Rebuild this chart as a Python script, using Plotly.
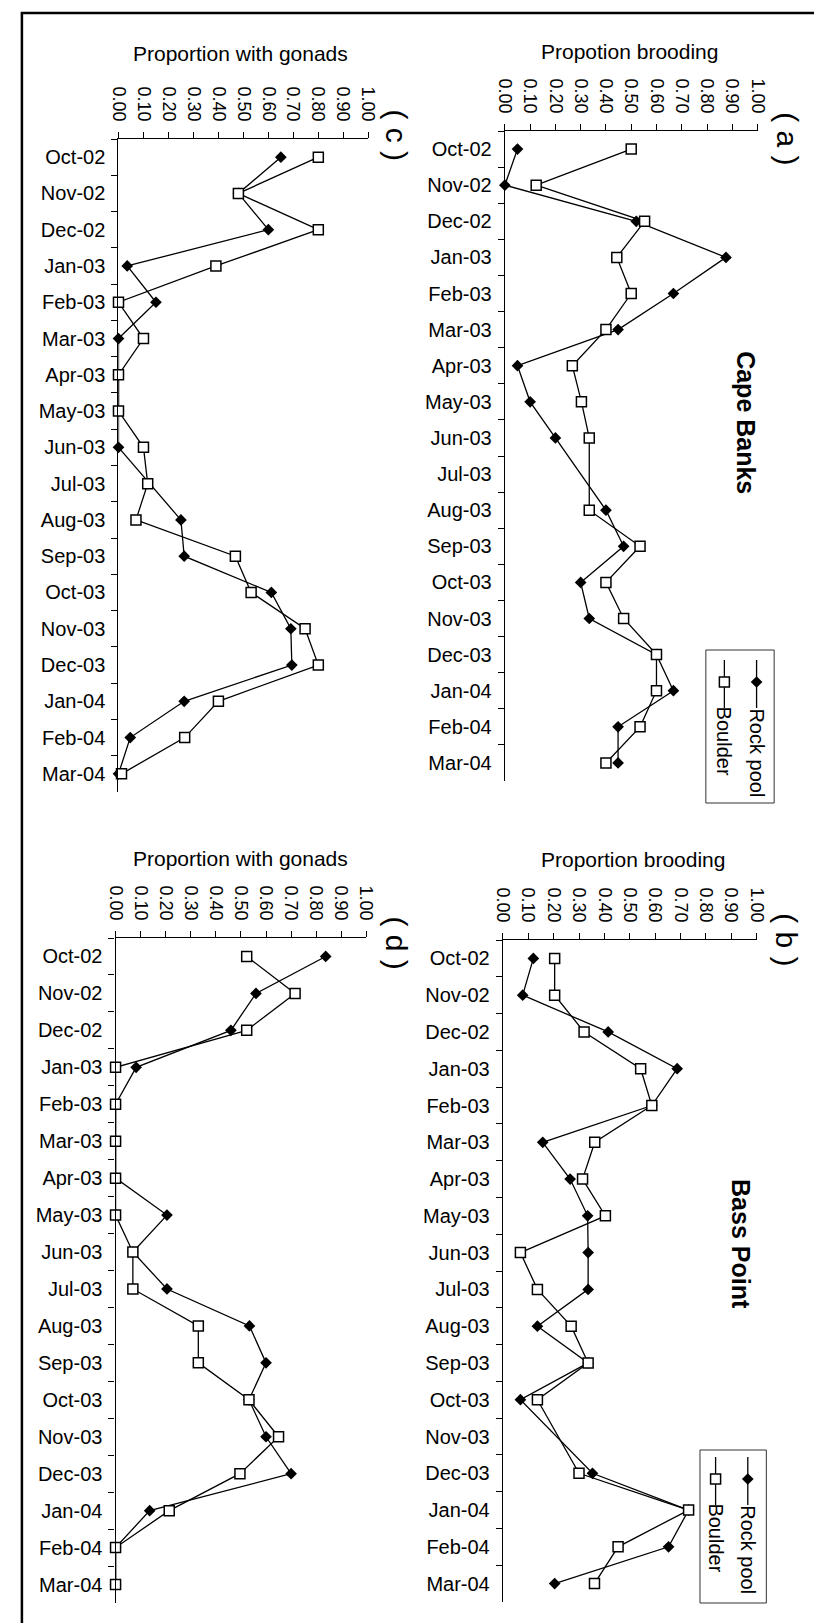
import plotly.graph_objects as go

W, H = 822, 1623

months = ["Oct-02", "Nov-02", "Dec-02", "Jan-03", "Feb-03", "Mar-03", "Apr-03", "May-03",
          "Jun-03", "Jul-03", "Aug-03", "Sep-03", "Oct-03", "Nov-03", "Dec-03", "Jan-04",
          "Feb-04", "Mar-04"]

value_ticks = [0.0, 0.1, 0.2, 0.3, 0.4, 0.5, 0.6, 0.7, 0.8, 0.9, 1.0]
value_labels = ["0.00", "0.10", "0.20", "0.30", "0.40", "0.50", "0.60", "0.70", "0.80", "0.90", "1.00"]

# (a) Cape Banks - proportion brooding
cb_brood_rock = [0.05, 0.00, 0.52, 0.875, 0.667, 0.448, 0.05, 0.10, 0.20, None, 0.40, 0.47,
                 0.30, 0.334, 0.60, 0.667, 0.448, 0.448]
cb_brood_boulder = [0.50, 0.124, 0.553, 0.443, 0.50, 0.40, 0.267, 0.303, 0.334, None, 0.334, 0.535,
                    0.40, 0.47, 0.60, 0.60, 0.535, 0.40]
# (b) Bass Point - proportion brooding
bp_brood_rock = [0.12, 0.078, 0.415, 0.687, 0.587, 0.157, 0.265, 0.334, 0.336, 0.336, 0.136, 0.336,
                 0.069, None, 0.353, 0.732, 0.653, 0.204]
bp_brood_boulder = [0.204, 0.204, 0.32, 0.543, 0.587, 0.362, 0.314, 0.404, 0.069, 0.136, 0.269, 0.336,
                    0.136, None, 0.30, 0.732, 0.454, 0.361]
# (c) Cape Banks - proportion with gonads
cb_gonad_rock = [0.65, 0.48, 0.60, 0.035, 0.15, 0.0, 0.0, 0.0, 0.0, None, 0.25, 0.263,
                 0.612, 0.69, 0.694, 0.263, 0.047, 0.0]
cb_gonad_boulder = [0.80, 0.48, 0.80, 0.39, 0.0, 0.10, 0.0, 0.0, 0.10, 0.117, 0.07, 0.468,
                    0.531, 0.747, 0.80, 0.40, 0.265, 0.012]
# (d) Bass Point - proportion with gonads
bp_gonad_rock = [0.838, 0.56, 0.46, 0.082, 0.0, 0.0, 0.0, 0.205, 0.069, 0.205, 0.534, 0.60,
                 0.532, 0.60, 0.70, 0.136, 0.0, 0.0]
bp_gonad_boulder = [0.523, 0.716, 0.523, 0.0, 0.0, 0.0, 0.0, 0.0, 0.069, 0.069, 0.33, 0.33,
                    0.532, 0.65, 0.496, 0.214, 0.0, 0.0]

series_names = ["Rock pool", "Boulder"]

FONT = "Liberation Sans, Arial, sans-serif"

# panel layout in pixels: (x0, x1, y0, y1)
panels = [
    dict(rock=cb_brood_rock, boulder=cb_brood_boulder, box=(499, 758, 123, 773),
         title="Propotion brooding", tpos=(627, 44), label="( a )", lpos=(788, 131)),
    dict(rock=bp_brood_rock, boulder=bp_brood_boulder, box=(497, 757, 932, 1594),
         title="Proportion brooding", tpos=(630, 851), label="( b )", lpos=(788, 932)),
    dict(rock=cb_gonad_rock, boulder=cb_gonad_boulder, box=(103, 359, 131, 784),
         title="Proportion with gonads", tpos=(228, 45), label="( c )", lpos=(388, 127)),
    dict(rock=bp_gonad_rock, boulder=bp_gonad_boulder, box=(100, 357, 930, 1595),
         title="Proportion with gonads", tpos=(228, 850), label="( d )", lpos=(388, 935)),
]

fig = go.Figure()
annotations = []
layout_axes = {}

def px(x):
    return x / W

def py(y):
    return 1 - y / H

for i, p in enumerate(panels, start=1):
    xs = "x" if i == 1 else f"x{i}"
    ys = "y" if i == 1 else f"y{i}"
    xk = "xaxis" if i == 1 else f"xaxis{i}"
    yk = "yaxis" if i == 1 else f"yaxis{i}"
    x0, x1, y0, y1 = p["box"]
    fig.add_trace(go.Scatter(
        x=p["rock"], y=months, xaxis=xs, yaxis=ys, mode="lines+markers",
        connectgaps=True, cliponaxis=False, showlegend=False, name=series_names[0],
        line=dict(color="black", width=1.3),
        marker=dict(symbol="diamond", size=9, color="black", line=dict(width=0))))
    fig.add_trace(go.Scatter(
        x=p["boulder"], y=months, xaxis=xs, yaxis=ys, mode="lines+markers",
        connectgaps=True, cliponaxis=False, showlegend=False, name=series_names[1],
        line=dict(color="black", width=1.3),
        marker=dict(symbol="square", size=10, color="white", line=dict(color="black", width=1.5))))
    layout_axes[xk] = dict(
        domain=[px(x0), px(x1)], range=[0, 1], side="top", anchor=ys,
        tickmode="array", tickvals=value_ticks, ticktext=value_labels, tickangle=90,
        ticks="outside", ticklen=6, tickwidth=1, tickcolor="black",
        showline=True, linecolor="black", linewidth=1.3, showgrid=False, zeroline=False,
        tickfont=dict(family=FONT, size=18, color="black"), ticklabelstandoff=4)
    layout_axes[yk] = dict(
        domain=[py(y1), py(y0)], type="category", categoryorder="array", categoryarray=months,
        range=[17.5, -0.5], anchor=xs, tickson="boundaries",
        ticks="outside", ticklen=6, tickwidth=1, tickcolor="black",
        showline=True, linecolor="black", linewidth=1.3, showgrid=False, zeroline=False,
        tickfont=dict(family=FONT, size=20, color="black"), ticklabelstandoff=8)
    annotations.append(dict(text=p["title"], x=px(p["tpos"][0]), y=py(p["tpos"][1]),
                            xref="paper", yref="paper", showarrow=False,
                            xanchor="center", yanchor="middle",
                            font=dict(family=FONT, size=21, color="black")))
    annotations.append(dict(text=p["label"], x=px(p["lpos"][0]), y=py(p["lpos"][1]),
                            xref="paper", yref="paper", showarrow=False, textangle=90,
                            xanchor="center", yanchor="middle",
                            font=dict(family=FONT, size=30, color="black")))

# site labels
for txt, (cx, cy) in [("Cape Banks", (746, 415)), ("Bass Point", (741, 1236))]:
    annotations.append(dict(text=f"<b>{txt}</b>", x=px(cx), y=py(cy), xref="paper", yref="paper",
                            showarrow=False, textangle=90, xanchor="center", yanchor="middle",
                            font=dict(family=FONT, size=25, color="black")))

# legends (overlay pixel axis)
legends = [
    dict(box=(705, 775, 642, 795), rock_x=757, boulder_x=724, ytop=652, ybot=700, ymark=674,
         rock_text=745, boulder_text=733),
    dict(box=(699, 767, 1442, 1595), rock_x=748, boulder_x=715, ytop=1449, ybot=1497, ymark=1471,
         rock_text=1542, boulder_text=1530),
]
shapes = []
for lg in legends:
    bx0, bx1, by0, by1 = lg["box"]
    shapes.append(dict(type="rect", xref="paper", yref="paper", x0=px(bx0), x1=px(bx1),
                       y0=py(by1), y1=py(by0), line=dict(color="#333333", width=1)))
    for xk_, sym, fill, txt, tc in [("rock_x", "diamond", "black", series_names[0], "rock_text"),
                                    ("boulder_x", "square", "white", series_names[1], "boulder_text")]:
        xx = lg[xk_]
        fig.add_trace(go.Scatter(x=[xx, xx], y=[lg["ytop"], lg["ybot"]], xaxis="x5", yaxis="y5",
                                 mode="lines", line=dict(color="black", width=1.3),
                                 showlegend=False, hoverinfo="skip"))
        fig.add_trace(go.Scatter(x=[xx], y=[lg["ymark"]], xaxis="x5", yaxis="y5", mode="markers",
                                 marker=dict(symbol=sym, size=9 if sym == "diamond" else 10,
                                             color=fill, line=dict(color="black",
                                                                   width=0 if sym == "diamond" else 1.5)),
                                 showlegend=False, hoverinfo="skip"))
        annotations.append(dict(text=txt, x=px(xx), y=py(lg[tc]), xref="paper", yref="paper",
                                showarrow=False, textangle=90, xanchor="center", yanchor="middle",
                                font=dict(family=FONT, size=20, color="black")))

layout_axes["xaxis5"] = dict(domain=[0, 1], range=[0, W], visible=False, anchor="y5")
layout_axes["yaxis5"] = dict(domain=[0, 1], range=[H, 0], visible=False, anchor="x5")

# outer frame
shapes.append(dict(type="rect", xref="paper", yref="paper", x0=px(4), x1=px(818),
                   y0=py(1620), y1=py(5), line=dict(color="black", width=2.5)))

fig.update_layout(
    width=W, height=H, margin=dict(l=0, r=0, t=0, b=0),
    paper_bgcolor="white", plot_bgcolor="rgba(0,0,0,0)",
    font=dict(family=FONT, color="black"),
    annotations=annotations, shapes=shapes, showlegend=False,
    **layout_axes)

fig.write_html("out.html")
